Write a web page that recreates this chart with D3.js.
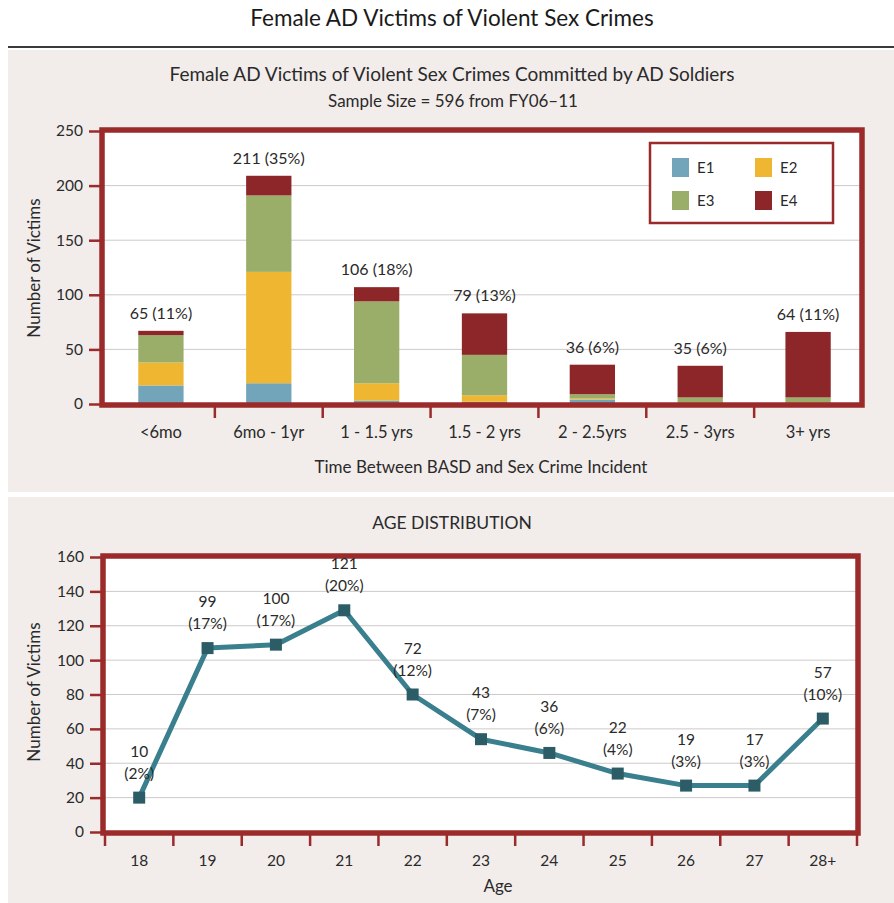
<!DOCTYPE html>
<html>
<head>
<meta charset="utf-8">
<script src="https://cdn.jsdelivr.net/npm/d3@7"></script>
<style>
  html, body { margin: 0; padding: 0; background: #ffffff; }
  svg { display: block; font-family: Lato, "Open Sans", sans-serif; }
</style>
</head>
<body>
<svg id="chart" width="894" height="903"></svg>
<script>
// ---------- DATA ----------
const mainTitle = "Female AD Victims of Violent Sex Crimes";
const barTitle = "Female AD Victims of Violent Sex Crimes Committed by AD Soldiers";
const barSubtitle = "Sample Size = 596 from FY06\u201311";
const timeCategories = ["<6mo", "6mo - 1yr", "1 - 1.5 yrs", "1.5 - 2 yrs", "2 - 2.5yrs", "2.5 - 3yrs", "3+ yrs"];
const seriesNames = ["E1", "E2", "E3", "E4"];
const e1Values = [17, 19, 3, 2, 4, 1, 1];
const e2Values = [21, 102, 16, 6, 1, 0, 0];
const e3Values = [25, 70, 75, 37, 4, 5, 5];
const e4Values = [4, 18, 13, 38, 27, 29, 60];
const barLabels = ["65 (11%)", "211 (35%)", "106 (18%)", "79 (13%)", "36 (6%)", "35 (6%)", "64 (11%)"];
const barYTicks = [0, 50, 100, 150, 200, 250];

const lineTitle = "AGE DISTRIBUTION";
const ages = ["18", "19", "20", "21", "22", "23", "24", "25", "26", "27", "28+"];
const ageValues = [20, 107, 109, 129, 80, 54, 46, 34, 27, 27, 66];
const ageCounts = ["10", "99", "100", "121", "72", "43", "36", "22", "19", "17", "57"];
const agePercents = ["(2%)", "(17%)", "(17%)", "(20%)", "(12%)", "(7%)", "(6%)", "(4%)", "(3%)", "(3%)", "(10%)"];
const lineYTicks = [0, 20, 40, 60, 80, 100, 120, 140, 160];

// ---------- STYLE ----------
const frameColor = "#9b2a2b";
const gridColor = "#cfc9c9";
const textColor = "#2a2a2a";
const seriesColors = ["#72a5b9", "#eeb631", "#9bae69", "#8c2628"];
const lineColor = "#3a7f8e";
const markerColor = "#2c5d66";
const panelColor = "#f2edeb";

const svg = d3.select("#chart");

// backgrounds
svg.append("rect").attr("x", 0).attr("y", 0).attr("width", 894).attr("height", 903).attr("fill", "#ffffff");
svg.append("rect").attr("x", 8).attr("y", 50).attr("width", 886).attr("height", 442).attr("fill", panelColor);
svg.append("rect").attr("x", 8).attr("y", 497).attr("width", 886).attr("height", 406).attr("fill", panelColor);

// main title and rule
svg.append("text").attr("x", 452).attr("y", 26).attr("text-anchor", "middle")
  .attr("font-size", 22.5).attr("fill", "#1a1a1a").text(mainTitle);
svg.append("line").attr("x1", 8).attr("x2", 894).attr("y1", 47).attr("y2", 47)
  .attr("stroke", "#3a3a3a").attr("stroke-width", 2);

// ================= BAR CHART =================
const b = { left: 103, right: 861, top: 131, bottom: 404 };
const xBar = d3.scaleBand().domain(timeCategories).range([107, 862]).paddingInner(0.58).paddingOuter(0.29);
const yBar = d3.scaleLinear().domain([0, 250]).range([b.bottom, b.top]);

svg.append("text").attr("x", 452).attr("y", 81).attr("text-anchor", "middle")
  .attr("font-size", 19).attr("fill", textColor).text(barTitle);
svg.append("text").attr("x", 453).attr("y", 107).attr("text-anchor", "middle")
  .attr("font-size", 17).attr("fill", textColor).text(barSubtitle);

// plot background
svg.append("rect").attr("x", b.left).attr("y", b.top).attr("width", b.right - b.left).attr("height", b.bottom - b.top)
  .attr("fill", "#ffffff");

// gridlines
svg.append("g").selectAll("line").data(barYTicks.filter(v => v > 0 && v < 250)).join("line")
  .attr("x1", b.left).attr("x2", b.right)
  .attr("y1", d => yBar(d)).attr("y2", d => yBar(d))
  .attr("stroke", gridColor).attr("stroke-width", 1);

// stacked bars
const barRows = timeCategories.map((c, i) => ({ cat: c, E1: e1Values[i], E2: e2Values[i], E3: e3Values[i], E4: e4Values[i] }));
const stacked = d3.stack().keys(seriesNames)(barRows);
svg.append("g").selectAll("g").data(stacked).join("g")
  .attr("fill", (d, i) => seriesColors[i])
  .selectAll("rect").data(d => d).join("rect")
  .attr("x", d => xBar(d.data.cat))
  .attr("width", xBar.bandwidth())
  .attr("y", d => yBar(d[1]))
  .attr("height", d => yBar(d[0]) - yBar(d[1]));

// bar labels
const totals = barRows.map(r => r.E1 + r.E2 + r.E3 + r.E4);
svg.append("g").selectAll("text").data(timeCategories).join("text")
  .attr("x", d => xBar(d) + xBar.bandwidth() / 2)
  .attr("y", (d, i) => yBar(totals[i]) - 12)
  .attr("text-anchor", "middle").attr("font-size", 16).attr("fill", textColor)
  .text((d, i) => barLabels[i]);

// y axis
const yAxisBar = d3.axisLeft(yBar).tickValues(barYTicks).tickSize(13).tickPadding(6);
const gyb = svg.append("g").attr("transform", `translate(${b.left - 1},0)`).call(yAxisBar);
gyb.select(".domain").remove();
gyb.selectAll(".tick line").attr("stroke", frameColor).attr("stroke-width", 2.5);
gyb.selectAll(".tick text").attr("font-size", 15.5).attr("fill", textColor).attr("font-family", "Lato, sans-serif");

// x axis ticks at band boundaries
const barBoundaries = timeCategories.slice(1).map(c => xBar(c) - xBar.step() * xBar.paddingInner() / 2);
svg.append("g").selectAll("line").data(barBoundaries).join("line")
  .attr("x1", d => d).attr("x2", d => d).attr("y1", b.bottom).attr("y2", b.bottom + 14)
  .attr("stroke", frameColor).attr("stroke-width", 2.5);
svg.append("g").selectAll("text").data(timeCategories).join("text")
  .attr("x", d => xBar(d) + xBar.bandwidth() / 2).attr("y", 438)
  .attr("text-anchor", "middle").attr("font-size", 16.5).attr("fill", textColor).text(d => d);

// frame
svg.append("rect").attr("x", b.left - 1).attr("y", b.top - 1).attr("width", b.right - b.left + 2).attr("height", b.bottom - b.top + 2)
  .attr("fill", "none").attr("stroke", frameColor).attr("stroke-width", 5.5);

// axis titles
svg.append("text").attr("x", 481).attr("y", 473).attr("text-anchor", "middle")
  .attr("font-size", 17).attr("fill", textColor).text("Time Between BASD and Sex Crime Incident");
svg.append("text").attr("transform", "translate(40,268) rotate(-90)").attr("text-anchor", "middle")
  .attr("font-size", 17).attr("fill", textColor).text("Number of Victims");

// legend
const lg = svg.append("g");
lg.append("rect").attr("x", 650).attr("y", 143).attr("width", 183).attr("height", 80)
  .attr("fill", "#ffffff").attr("stroke", frameColor).attr("stroke-width", 2.5);
const legendPos = [[672, 158], [755, 158], [672, 191], [755, 191]];
seriesNames.forEach((s, i) => {
  lg.append("rect").attr("x", legendPos[i][0]).attr("y", legendPos[i][1]).attr("width", 17).attr("height", 19)
    .attr("fill", seriesColors[i]);
  lg.append("text").attr("x", legendPos[i][0] + 25).attr("y", legendPos[i][1] + 15)
    .attr("font-size", 15).attr("fill", textColor).text(s);
});

// ================= LINE CHART =================
const l = { left: 104, right: 857, top: 557, bottom: 832 };
const xAge = d3.scaleBand().domain(ages).range([105, 857]).padding(0);
const yAge = d3.scaleLinear().domain([0, 160]).range([l.bottom, l.top]);

svg.append("text").attr("x", 452).attr("y", 529).attr("text-anchor", "middle")
  .attr("font-size", 17.5).attr("fill", textColor).text(lineTitle);

svg.append("rect").attr("x", l.left).attr("y", l.top).attr("width", l.right - l.left).attr("height", l.bottom - l.top)
  .attr("fill", "#ffffff");

svg.append("g").selectAll("line").data(lineYTicks.filter(v => v > 0 && v < 160)).join("line")
  .attr("x1", l.left).attr("x2", l.right)
  .attr("y1", d => yAge(d)).attr("y2", d => yAge(d))
  .attr("stroke", gridColor).attr("stroke-width", 1);

const yAxisAge = d3.axisLeft(yAge).tickValues(lineYTicks).tickSize(13).tickPadding(6);
const gya = svg.append("g").attr("transform", `translate(${l.left - 1},0)`).call(yAxisAge);
gya.select(".domain").remove();
gya.selectAll(".tick line").attr("stroke", frameColor).attr("stroke-width", 2.5);
gya.selectAll(".tick text").attr("font-size", 15.5).attr("fill", textColor).attr("font-family", "Lato, sans-serif");

const ageBoundaries = ages.map(a => xAge(a)).concat([xAge(ages[ages.length - 1]) + xAge.bandwidth()]);
svg.append("g").selectAll("line").data(ageBoundaries).join("line")
  .attr("x1", d => d).attr("x2", d => d).attr("y1", l.bottom).attr("y2", l.bottom + 14)
  .attr("stroke", frameColor).attr("stroke-width", 2.5);
svg.append("g").selectAll("text").data(ages).join("text")
  .attr("x", d => xAge(d) + xAge.bandwidth() / 2).attr("y", 866)
  .attr("text-anchor", "middle").attr("font-size", 15.5).attr("fill", textColor).text(d => d);

svg.append("rect").attr("x", l.left - 1).attr("y", l.top - 1).attr("width", l.right - l.left + 2).attr("height", l.bottom - l.top + 2)
  .attr("fill", "none").attr("stroke", frameColor).attr("stroke-width", 5.5);

svg.append("text").attr("x", 498).attr("y", 892).attr("text-anchor", "middle")
  .attr("font-size", 17).attr("fill", textColor).text("Age");
svg.append("text").attr("transform", "translate(40,692) rotate(-90)").attr("text-anchor", "middle")
  .attr("font-size", 17).attr("fill", textColor).text("Number of Victims");

const ageRows = ages.map((a, i) => ({ age: a, v: ageValues[i] }));
const lineGen = d3.line().x(d => xAge(d.age) + xAge.bandwidth() / 2).y(d => yAge(d.v));
svg.append("path").datum(ageRows).attr("d", lineGen)
  .attr("fill", "none").attr("stroke", lineColor).attr("stroke-width", 5).attr("stroke-linejoin", "round");
svg.append("g").selectAll("rect").data(ageRows).join("rect")
  .attr("x", d => xAge(d.age) + xAge.bandwidth() / 2 - 6)
  .attr("y", d => yAge(d.v) - 6)
  .attr("width", 12).attr("height", 12).attr("fill", markerColor);

const lbl = svg.append("g").selectAll("g").data(ageRows).join("g");
lbl.append("text")
  .attr("x", d => xAge(d.age) + xAge.bandwidth() / 2).attr("y", d => yAge(d.v) - 41)
  .attr("text-anchor", "middle").attr("font-size", 15.5).attr("fill", textColor)
  .text((d, i) => ageCounts[i]);
lbl.append("text")
  .attr("x", d => xAge(d.age) + xAge.bandwidth() / 2).attr("y", d => yAge(d.v) - 19)
  .attr("text-anchor", "middle").attr("font-size", 15.5).attr("fill", textColor)
  .text((d, i) => agePercents[i]);
</script>
</body>
</html>
